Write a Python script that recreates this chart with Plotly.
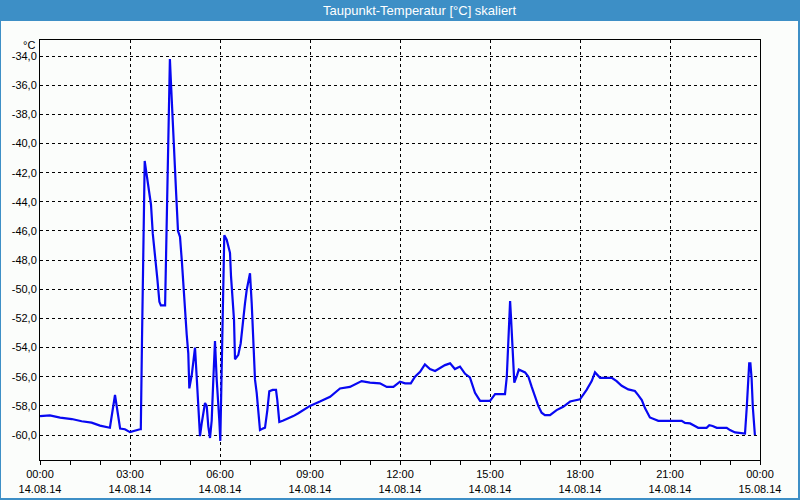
import plotly.graph_objects as go

# ---------------- data ----------------
hours = [
    0.0, 0.33, 0.67, 1.06, 1.39, 1.72, 2.0, 2.33, 2.5, 2.67, 2.83, 3.0, 3.33,
    3.36, 3.4, 3.45, 3.49, 3.56, 3.64, 3.7, 3.76, 3.83, 3.91, 3.98, 4.03, 4.17,
    4.2, 4.26, 4.3, 4.33, 4.36, 4.39, 4.44, 4.49, 4.54, 4.6,
    4.667, 4.733, 4.833, 4.89, 4.943, 4.977, 5.057, 5.11, 5.167, 5.223, 5.277,
    5.333, 5.39, 5.443, 5.5, 5.557, 5.61, 5.667, 5.723, 5.777, 5.833, 5.89,
    5.943, 5.977, 6.01, 6.033, 6.057, 6.09, 6.11, 6.143, 6.223, 6.277, 6.333,
    6.367, 6.423, 6.467, 6.5, 6.61, 6.69, 6.757, 6.833, 6.89, 6.943, 7.0,
    7.057, 7.11, 7.167, 7.223, 7.277, 7.333, 7.443, 7.5, 7.577, 7.643, 7.757,
    7.867, 7.91, 7.977, 8.11, 8.277, 8.443, 8.61, 9.0, 9.33, 9.67, 10.0,
    10.33, 10.72, 11.0, 11.33, 11.56, 11.78, 12.0, 12.17, 12.36, 12.5, 12.67,
    12.83, 13.0, 13.17, 13.33, 13.5, 13.67, 13.83, 14.0, 14.17, 14.33, 14.5,
    14.67, 15.0, 15.17, 15.5, 15.56, 15.61, 15.67, 15.7, 15.76, 15.81, 15.9,
    15.96, 16.17, 16.28, 16.39, 16.5, 16.61, 16.72, 16.83, 17.0, 17.22, 17.44,
    17.67, 18.0, 18.22, 18.39, 18.5, 18.67, 19.06, 19.22, 19.39, 19.61, 19.83,
    19.94, 20.06, 20.17, 20.33, 20.5, 20.61, 21.0, 21.39, 21.5, 21.67, 21.83,
    21.94, 22.22, 22.31, 22.42, 22.56, 22.89, 23.0, 23.17, 23.33, 23.42, 23.5,
    23.56, 23.6, 23.64, 23.68, 23.72, 23.76, 23.83,
]
dewpoint = [
    -58.7, -58.65, -58.8, -58.9, -59.05, -59.15, -59.35, -59.5, -57.25, -59.55,
    -59.6, -59.8, -59.6,
    -59.6, -53.5, -45.5, -41.2, -42.2, -43.2, -44.2, -46.2, -47.5, -49.25,
    -50.86, -51.1, -51.1,
    -47.8, -41.2, -37.5, -34.2, -35.6, -37.0, -39.8, -42.3, -43.5, -46.0,
    -46.4, -48.2, -51.6, -53.1, -54.4, -56.8, -55.9, -55.08, -54.0, -56.0,
    -58.5, -60.07, -59.2, -58.5, -57.8, -58.0, -59.4, -60.2, -59.0, -56.2,
    -53.55, -56.2, -57.7, -59.0, -60.4, -57.6, -54.86, -51.9, -48.9, -46.3,
    -46.6, -46.97, -47.5, -49.1, -50.5, -52.1, -54.8, -54.5, -53.7, -52.3,
    -50.97, -50.05, -49.4, -48.9, -50.97, -53.5, -56.2, -57.1, -58.5, -59.66,
    -59.54, -59.5, -58.3, -57.0, -56.9, -56.9, -57.6, -59.1, -59.0, -58.86,
    -58.7, -58.5, -58.0, -57.7, -57.37, -56.8, -56.7, -56.3, -56.4, -56.45,
    -56.7, -56.7, -56.34, -56.45, -56.45, -56.0, -55.66, -55.15, -55.47,
    -55.6, -55.38, -55.2, -55.08, -55.47, -55.3, -55.8, -56.04, -57.1, -57.65,
    -57.65, -57.19, -57.19, -56.0, -53.5, -50.8, -51.9, -54.6, -56.4, -55.9,
    -55.5, -55.7, -56.0, -56.7, -57.37, -58.0, -58.47, -58.63, -58.63, -58.29,
    -58.06, -57.7, -57.55, -56.9, -56.3, -55.7, -56.07, -56.07, -56.3, -56.62,
    -56.87, -56.98, -57.26, -57.6, -58.17, -58.79, -58.93, -59.02, -59.02,
    -59.02, -59.16, -59.2, -59.38, -59.5, -59.5, -59.33, -59.38, -59.5, -59.5,
    -59.66, -59.82, -59.86, -59.93, -59.9, -58.06, -56.1, -55.08, -55.08,
    -56.1, -58.06, -60.0,
]

x_tickvals = [0, 3, 6, 9, 12, 15, 18, 21, 24]
x_ticktext = [
    "00:00<br>14.08.14", "03:00<br>14.08.14", "06:00<br>14.08.14",
    "09:00<br>14.08.14", "12:00<br>14.08.14", "15:00<br>14.08.14",
    "18:00<br>14.08.14", "21:00<br>14.08.14", "00:00<br>15.08.14",
]
y_tickvals = [-60, -58, -56, -54, -52, -50, -48, -46, -44, -42, -40, -38, -36, -34]
y_ticktext = ["-60,0", "-58,0", "-56,0", "-54,0", "-52,0", "-50,0", "-48,0",
              "-46,0", "-44,0", "-42,0", "-40,0", "-38,0", "-36,0", "-34,0"]

title_text = "Taupunkt-Temperatur [°C] skaliert"
unit_text = "°C"

# ---------------- layout helpers ----------------
W, H = 800, 500
L, R, T, B = 40, 40, 40, 40
PW, PH = W - L - R, H - T - B


def px_x(x):
    return (x - L) / PW


def px_y(y):
    return (H - B - y) / PH


BAR = "#3D8FC6"
BG = "#FBFDFB"
FONT = "Liberation Sans"

fig = go.Figure()
fig.add_trace(go.Scatter(
    x=hours, y=dewpoint, mode="lines",
    line=dict(color="#0808F2", width=2.2),
    hoverinfo="skip", showlegend=False,
))

grid = dict(showgrid=True, gridcolor="black", gridwidth=1, griddash="3px,3px")

fig.update_layout(
    width=W, height=H,
    margin=dict(l=L, r=R, t=T, b=B, pad=0, autoexpand=False),
    paper_bgcolor=BG, plot_bgcolor=BG,
    font=dict(family=FONT, size=11, color="black"),
    xaxis=dict(
        range=[0, 24], tickmode="array", tickvals=x_tickvals, ticktext=x_ticktext,
        ticks="outside", ticklen=4, tickcolor="black", tickwidth=1,
        minor=dict(tickmode="linear", tick0=0, dtick=1, ticks="outside",
                   ticklen=4, tickcolor="black", tickwidth=1, showgrid=False),
        showline=True, mirror=True, linecolor="black", linewidth=1,
        zeroline=False, automargin=False,
        tickfont=dict(family=FONT, size=11, color="black"),
        **grid,
    ),
    yaxis=dict(
        range=[-61.71, -32.90], tickmode="array", tickvals=y_tickvals,
        ticktext=y_ticktext, ticks="", showline=True, mirror=True,
        linecolor="black", linewidth=1, zeroline=False, automargin=False,
        tickfont=dict(family=FONT, size=11, color="black"),
        **grid,
    ),
    shapes=[
        dict(type="rect", xref="paper", yref="paper", layer="above",
             x0=px_x(0), x1=px_x(W), y0=px_y(21), y1=px_y(0),
             fillcolor=BAR, line=dict(width=0)),
        dict(type="rect", xref="paper", yref="paper", layer="above",
             x0=px_x(0), x1=px_x(1), y0=px_y(H), y1=px_y(0),
             fillcolor=BAR, line=dict(width=0)),
        dict(type="rect", xref="paper", yref="paper", layer="above",
             x0=px_x(W - 2), x1=px_x(W), y0=px_y(H), y1=px_y(0),
             fillcolor=BAR, line=dict(width=0)),
        dict(type="rect", xref="paper", yref="paper", layer="above",
             x0=px_x(0), x1=px_x(W), y0=px_y(H), y1=px_y(H - 2),
             fillcolor=BAR, line=dict(width=0)),
    ],
    annotations=[
        dict(text=title_text, xref="paper", yref="paper",
             x=px_x(419), y=px_y(10.5), xanchor="center", yanchor="middle",
             showarrow=False, font=dict(family=FONT, size=13, color="white")),
        dict(text=unit_text, xref="paper", yref="paper",
             x=px_x(37), y=px_y(45), xanchor="right", yanchor="middle",
             showarrow=False, font=dict(family=FONT, size=11, color="black")),
    ],
)

fig.write_html("out.html")
